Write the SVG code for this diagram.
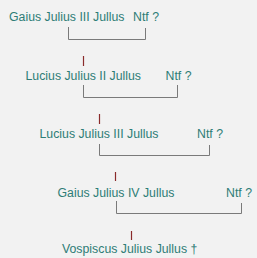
<svg xmlns="http://www.w3.org/2000/svg" width="257" height="258" viewBox="0 0 257 258">
<style>
text{font-family:"Liberation Sans",Arial,sans-serif;font-size:12.3px;fill:#2e7d76}
.br{stroke:#7a7a7a;stroke-width:1;fill:none}
.rd{stroke:#8a2b2b;stroke-width:1.2}
</style>
<rect width="257" height="258" fill="#f2f2f2"/>
<g id="n1"><text x="9" y="21">Gaius Julius III Jullus</text><text x="133" y="21">Ntf ?</text></g>
<g id="n2"><text x="25.5" y="80">Lucius Julius II Jullus</text><text x="165.5" y="80">Ntf ?</text></g>
<g id="n3"><text x="39.5" y="138">Lucius Julius III Jullus</text><text x="197" y="138">Ntf ?</text></g>
<g id="n4"><text x="57.5" y="197">Gaius Julius IV Jullus</text><text x="226" y="197">Ntf ?</text></g>
<g id="n5"><text x="62" y="253">Vospiscus Julius Jullus †</text></g>
<g id="connectors">
<path class="br" d="M68.5 27V39.5H145.5V28"/>
<path class="br" d="M83.5 85V97.5H177.5V85"/>
<path class="br" d="M99.5 144V155.5H209.5V145"/>
<path class="br" d="M116.5 201V213.5H241.5V203"/>
<line class="rd" x1="83.5" y1="56" x2="83.5" y2="66"/>
<line class="rd" x1="99.5" y1="114" x2="99.5" y2="124"/>
<line class="rd" x1="115.5" y1="172" x2="115.5" y2="181"/>
<line class="rd" x1="131.5" y1="231" x2="131.5" y2="240"/>
</g>
</svg>
